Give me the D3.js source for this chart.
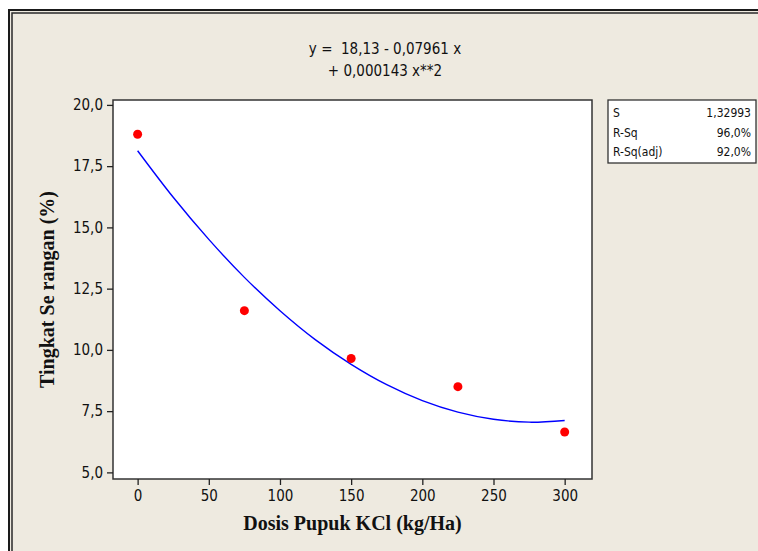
<!DOCTYPE html>
<html>
<head>
<meta charset="utf-8">
<script src="https://cdn.jsdelivr.net/npm/d3@7"></script>
<style>
  body { margin: 0; background: #fff; }
  svg { display: block; }
  .tick text { font-family: "DejaVu Sans Condensed", "DejaVu Sans", sans-serif; font-size: 15px; fill: #111; }
</style>
</head>
<body>
<svg id="chart" width="758" height="551"></svg>
<script>
// observed data (dosis KCl vs tingkat serangan)
var dosis = [0, 75, 150, 225, 300];
var serangan = [18.8, 11.6, 9.65, 8.5, 6.65];

// fitted line
var fitX = [0, 25, 50, 75, 100, 125, 150, 175, 200, 225, 250, 275, 300];
var fitY = [18.13, 16.23, 14.51, 12.96, 11.6, 10.41, 9.41, 8.58, 7.93, 7.46, 7.17, 7.05, 7.12];

var xTicks = [0, 50, 100, 150, 200, 250, 300];
var yTicks = [5, 7.5, 10, 12.5, 15, 17.5, 20];

var titleLines = ["y =  18,13 - 0,07961 x", "+ 0,000143 x**2"];
var statLabels = ["S", "R-Sq", "R-Sq(adj)"];
var statValues = ["1,32993", "96,0%", "92,0%"];

var svg = d3.select("#chart");
var pLeft = 113, pRight = 592, pTop = 100, pBottom = 479;

// frame
svg.append("rect").attr("x", 8).attr("y", 9).attr("width", 800).attr("height", 600)
	.attr("fill", "#EEEAE0");
svg.append("rect").attr("x", 9).attr("y", 10).attr("width", 800).attr("height", 600)
	.attr("fill", "none").attr("stroke", "#1a1a1a").attr("stroke-width", 2);
svg.append("rect").attr("x", 12).attr("y", 13).attr("width", 800).attr("height", 600)
	.attr("fill", "none").attr("stroke", "#2a2a2a").attr("stroke-width", 1.5);

var x = d3.scaleLinear().domain([-17.3, 319.2]).range([pLeft, pRight]);
var y = d3.scaleLinear().domain([4.73, 20.2]).range([pBottom, pTop]);
var fmt = function(d){ return d3.format(".1f")(d).replace(".", ","); };

svg.append("rect").attr("x", pLeft).attr("y", pTop)
	.attr("width", pRight - pLeft).attr("height", pBottom - pTop)
	.attr("fill", "#fff").attr("stroke", "#333").attr("stroke-width", 1.5);

var gx = svg.append("g").attr("transform", "translate(0," + pBottom + ")")
	.call(d3.axisBottom(x).tickValues(xTicks).tickSize(6).tickPadding(5).tickFormat(d3.format("d")));
var gy = svg.append("g").attr("transform", "translate(" + pLeft + ",0)")
	.call(d3.axisLeft(y).tickValues(yTicks).tickSize(6).tickPadding(4).tickFormat(fmt));
[gx, gy].forEach(function(g){
	g.select(".domain").remove();
	g.selectAll(".tick line").attr("stroke", "#222").attr("stroke-width", 1.3);
});

// fit curve
var line = d3.line()
	.x(function(d, i){ return x(fitX[i]); })
	.y(function(d){ return y(d); })
	.curve(d3.curveCatmullRom);
svg.append("path").datum(fitY).attr("d", line)
	.attr("fill", "none").attr("stroke", "#0000FF").attr("stroke-width", 1.4);

// points
svg.append("g").selectAll("circle").data(serangan).enter().append("circle")
	.attr("cx", function(d, i){ return x(dosis[i]); })
	.attr("cy", function(d){ return y(d); })
	.attr("r", 4.5).attr("fill", "#FF0000");

// title
svg.append("g").selectAll("text").data(titleLines).enter().append("text")
	.attr("x", 385).attr("y", function(d, i){ return 54 + i * 22; })
	.attr("text-anchor", "middle").attr("xml:space", "preserve")
	.style("white-space", "pre")
	.style("font-family", "'DejaVu Sans Condensed', 'DejaVu Sans', sans-serif")
	.style("font-size", "15px").attr("fill", "#111")
	.text(function(d){ return d; });

// axis titles
svg.append("text").attr("x", (pLeft + pRight) / 2).attr("y", 530)
	.attr("text-anchor", "middle")
	.style("font-family", "'Liberation Serif', 'Times New Roman', serif")
	.style("font-size", "20px").style("font-weight", "bold").attr("fill", "#111")
	.text("Dosis Pupuk KCl (kg/Ha)");
svg.append("text")
	.attr("transform", "translate(54," + (pTop + pBottom) / 2 + ") rotate(-90)")
	.attr("text-anchor", "middle")
	.style("font-family", "'Liberation Serif', 'Times New Roman', serif")
	.style("font-size", "20px").style("font-weight", "bold").attr("fill", "#111")
	.text("Tingkat Se rangan (%)");

// stats box
svg.append("rect").attr("x", 608).attr("y", 100).attr("width", 148).attr("height", 63)
	.attr("fill", "#fff").attr("stroke", "#333").attr("stroke-width", 1.3);
var rows = svg.append("g").selectAll("g").data(statLabels).enter().append("g")
	.attr("transform", function(d, i){ return "translate(0," + (117 + i * 19.5) + ")"; })
	.style("font-family", "'DejaVu Sans Condensed', 'DejaVu Sans', sans-serif")
	.style("font-size", "12px");
rows.append("text").attr("x", 613).attr("fill", "#111").text(function(d){ return d; });
rows.append("text").attr("x", 751).attr("text-anchor", "end").attr("fill", "#111")
	.text(function(d, i){ return statValues[i]; });
</script>
</body>
</html>
